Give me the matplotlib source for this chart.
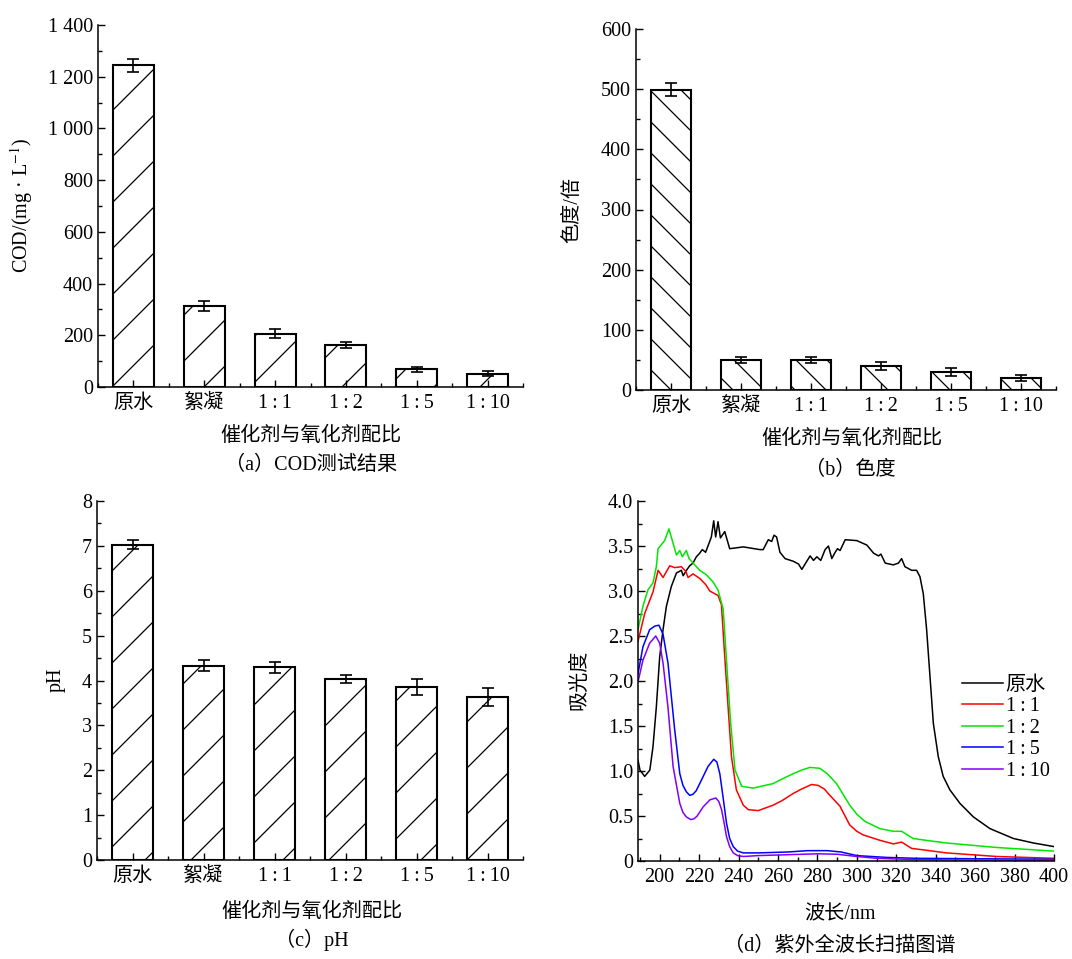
import numpy as np
import matplotlib
matplotlib.use("Agg")
import matplotlib.pyplot as plt
from matplotlib.ticker import MultipleLocator, FuncFormatter

plt.rcParams['font.family'] = ['Liberation Serif', 'Noto Sans CJK SC', 'DejaVu Sans']
plt.rcParams['mathtext.fontset'] = 'stix'

W, H = 1072, 959

# ---- bar data ----
categories = ['原水', '絮凝', '1\u2009:\u20091', '1\u2009:\u20092', '1\u2009:\u20095', '1\u2009:\u200910']
cod_vals = [1245, 314, 206, 161, 68, 51]
cod_errs = [25, 20, 18, 12, 9, 10]
color_vals = [499, 50, 50, 40, 30, 20]
color_errs = [11, 4.5, 5.5, 6.4, 6.4, 4.5]
ph_vals = [7.03, 4.33, 4.29, 4.03, 3.86, 3.64]
ph_errs = [0.11, 0.12, 0.13, 0.085, 0.18, 0.2]

# ---- UV spectra ----
wl_raw = [189, 190, 192.4, 195, 196.6, 198.3, 200, 201.7, 203.4, 205.9, 208.5, 211, 211.9, 213.6,
          215.2, 216.9, 218.6, 220.3, 221.6, 223.3, 225, 226.2, 227.4, 228.4, 229.6, 230.8, 233,
          235.5, 242.4, 250.8, 252.5, 255.1, 256.8, 258, 259.3, 261, 263.6, 267.8, 270.4, 272.1,
          274.6, 276.3, 278, 279.7, 281.7, 283.9, 285.6, 287.3, 289, 290.2, 291.5, 294.1, 300,
          305.1, 308.5, 311, 312.2, 314.4, 318.5, 321.1, 322.7, 324.4, 327.8, 330.3, 332, 333.7,
          335.4, 337.1, 338.8, 341.3, 343.8, 347.2, 352.3, 359.1, 367.5, 379.4, 389.6, 400]
abs_raw = [1.12, 1.01, 0.94, 1.01, 1.27, 1.71, 2.27, 2.57, 2.83, 3.05, 3.20, 3.23, 3.17, 3.23,
           3.28, 3.31, 3.38, 3.42, 3.46, 3.43, 3.53, 3.60, 3.78, 3.60, 3.77, 3.59, 3.66,
           3.47, 3.49, 3.46, 3.46, 3.57, 3.55, 3.62, 3.60, 3.43, 3.36, 3.33, 3.30, 3.24,
           3.33, 3.39, 3.34, 3.38, 3.34, 3.46, 3.50, 3.36, 3.43, 3.47, 3.45, 3.57, 3.56,
           3.51, 3.42, 3.39, 3.41, 3.31, 3.29, 3.31, 3.36, 3.27, 3.23, 3.23, 3.16, 2.97,
           2.57, 2.05, 1.53, 1.16, 0.94, 0.79, 0.64, 0.49, 0.36, 0.25, 0.20, 0.16]

wl_11 = [189, 192.4, 196.6, 199.2, 201.7, 205.1, 207.6, 211, 213.2, 214.4, 216.9, 220.3, 223.4,
         225.4, 229.6, 231.3, 233, 234.7, 236.4, 238.9, 242.4, 245, 250, 257.5, 262, 267.7, 272,
         277, 280.4, 283.5, 286.3, 291.4, 296.4, 300, 303.2, 311.7, 318.5, 322.7, 327.8, 335,
         345.5, 371, 400]
abs_11 = [2.44, 2.75, 2.99, 3.23, 3.15, 3.28, 3.26, 3.27, 3.22, 3.15, 3.19, 3.14, 3.07,
          3.00, 2.95, 2.85, 2.27, 1.71, 1.16, 0.79, 0.62, 0.57, 0.56, 0.62, 0.67, 0.75, 0.80,
          0.85, 0.84, 0.80, 0.73, 0.61, 0.40, 0.33, 0.29, 0.23, 0.19, 0.21, 0.14, 0.12,
          0.09, 0.05, 0.03]

wl_12 = [189, 191.5, 194, 196.6, 198.3, 199.2, 202.5, 204.7, 206.8, 208.5, 210.2, 211.5, 213.5,
         214.9, 217.8, 220.3, 223.7, 227.1, 229.6, 232.2, 234.3, 236, 238.2, 241.6, 247.4, 257.5,
         262, 267.7, 272, 276.2, 281.2, 285, 289.7, 296.4, 300, 304.1, 311.7, 318.5, 322.7, 328.6,
         335, 345.5, 371, 400]
abs_12 = [2.57, 2.83, 3.01, 3.09, 3.27, 3.47, 3.56, 3.69, 3.53, 3.40, 3.45, 3.38, 3.45,
          3.36, 3.29, 3.23, 3.18, 3.10, 3.01, 2.80, 2.09, 1.53, 1.01, 0.83, 0.81, 0.86,
          0.91, 0.97, 1.01, 1.04, 1.03, 0.97, 0.86, 0.62, 0.52, 0.44, 0.36, 0.33, 0.33, 0.25,
          0.23, 0.20, 0.15, 0.11]

wl_15 = [189, 191.5, 194.9, 197.5, 199.6, 201.7, 204.2, 205.9, 207.6, 210.2, 211.8, 213.5, 215.2,
         216.8, 218.5, 221.2, 224.5, 227.4, 229, 230.5, 232.2, 233.9, 235.5, 237.3, 239.5, 242.4,
         250, 265, 275, 285, 292, 300, 315, 330, 360, 400]
abs_15 = [2.08, 2.38, 2.57, 2.61, 2.62, 2.52, 2.20, 1.83, 1.46, 0.97, 0.84, 0.77, 0.73,
          0.74, 0.78, 0.90, 1.05, 1.13, 1.10, 0.97, 0.70, 0.42, 0.25, 0.16, 0.11, 0.09,
          0.09, 0.10, 0.115, 0.115, 0.10, 0.06, 0.04, 0.03, 0.025, 0.02]

wl_110 = [189, 191.5, 194.9, 198, 200, 201.7, 204.2, 206.8, 210.2, 211.8, 213.5, 215.8, 217.5,
          219, 222, 225.5, 228.5, 230, 231.4, 232.7, 233.9, 235.5, 237.3, 239.5, 242.4, 250, 265,
          280, 290, 300, 310, 330, 360, 400]
abs_110 = [1.99, 2.23, 2.42, 2.50, 2.42, 2.20, 1.71, 1.05, 0.64, 0.54, 0.49, 0.46, 0.47,
           0.50, 0.60, 0.68, 0.70, 0.66, 0.57, 0.42, 0.27, 0.16, 0.09, 0.06, 0.05, 0.06, 0.07,
           0.08, 0.075, 0.05, 0.03, 0.015, 0.01, 0.01]

spectra = [(wl_raw, abs_raw, '原水', 'black'),
           (wl_11, abs_11, '1\u2009:\u20091', '#ff0000'),
           (wl_12, abs_12, '1\u2009:\u20092', '#00e600'),
           (wl_15, abs_15, '1\u2009:\u20095', '#0000ff'),
           (wl_110, abs_110, '1\u2009:\u200910', '#8000ff')]

TICK_FS = 14.5
LABEL_FS = 14.5


def rect(l, t, r, b):
    return [l / W, 1 - b / H, (r - l) / W, (b - t) / H]


def ftext(x, y, s, **kw):
    fig.text(x / W, 1 - y / H, s, ha='center', va='center', fontsize=LABEL_FS, **kw)


def style(ax):
    for side in ('top', 'right'):
        ax.spines[side].set_visible(False)
    for side in ('left', 'bottom'):
        ax.spines[side].set_linewidth(1.1)
    ax.tick_params(which='both', direction='in', width=1.0, labelsize=TICK_FS)
    ax.tick_params(which='major', length=5)
    ax.tick_params(which='minor', length=3)


def add_hatch(ax, bars, spacing, slope):
    # draw sparse diagonal hatch lines clipped to each bar
    inv = ax.transData.inverted()
    for bar in bars:
        (x0, y0), (x1, y1) = ax.transData.transform(
            [(bar.get_x(), bar.get_y()), (bar.get_x() + bar.get_width(), bar.get_y() + bar.get_height())])
        if slope > 0:
            cs = np.arange(np.floor((x0 - y1) / spacing), np.ceil((x1 - y0) / spacing) + 1) * spacing
            segs = [((x0, x0 - c), (x1, x1 - c)) for c in cs]
        else:
            cs = np.arange(np.floor((x0 + y0) / spacing), np.ceil((x1 + y1) / spacing) + 1) * spacing
            segs = [((x0, c - x0), (x1, c - x1)) for c in cs]
        for p, q in segs:
            d = inv.transform([p, q])
            ln, = ax.plot(d[:, 0], d[:, 1], color='black', lw=0.9, zorder=2)
            ln.set_clip_path(bar)


def bar_panel(ax, vals, errs, ymax, major, minor, spacing, slope):
    x = np.arange(len(categories))
    bars = ax.bar(x, vals, width=0.58, facecolor='white', edgecolor='black', linewidth=1.5, zorder=1)
    ax.set_xlim(-0.5, 5.5)
    ax.set_ylim(0, ymax)
    ax.set_xticks(x)
    ax.set_xticklabels(categories)
    ax.set_xticks(np.arange(-0.5, 6, 1), minor=True)
    ax.yaxis.set_major_locator(MultipleLocator(major))
    ax.yaxis.set_minor_locator(MultipleLocator(minor))
    style(ax)
    ax.tick_params(axis='x', which='major', pad=5)
    add_hatch(ax, bars, spacing, slope)
    for b in bars:
        b.set_zorder(3)
        b.set_facecolor('none')
    ax.errorbar(x, vals, yerr=errs, fmt='none', ecolor='black', elinewidth=1.2,
                capsize=4, capthick=1.2, zorder=4)


fig = plt.figure(figsize=(W / 100, H / 100), dpi=100)

# (a) COD
ax_a = fig.add_axes(rect(98, 25, 523, 387))
bar_panel(ax_a, cod_vals, cod_errs, 1400, 200, 100, 46, 1)
ax_a.yaxis.set_major_formatter(FuncFormatter(lambda v, p: f'{int(v):,}'.replace(',', ' ')))
ftext(22, 205, 'COD/(mg · L$^{-1}$)', rotation=90)
ftext(311, 436, '催化剂与氧化剂配比')
ftext(311, 465, '（a）COD测试结果')

# (b) colour
ax_b = fig.add_axes(rect(636, 29, 1056, 390))
bar_panel(ax_b, color_vals, color_errs, 600, 100, 50, 31, -1)
ftext(573, 210, '色度/倍', rotation=90)
ftext(852, 439, '催化剂与氧化剂配比')
ftext(850, 470, '（b）色度')

# (c) pH
ax_c = fig.add_axes(rect(97, 501, 523, 860))
bar_panel(ax_c, ph_vals, ph_errs, 8, 1, 0.5, 46, 1)
ftext(56, 680, 'pH', rotation=90)
ftext(312, 912, '催化剂与氧化剂配比')
ftext(312, 940, '（c）pH')

# (d) UV scan
ax_d = fig.add_axes(rect(638, 501, 1054, 861))
for wl, ab, lab, col in spectra:
    ax_d.plot(wl, ab, color=col, lw=1.1, label=lab)
ax_d.set_xlim(189, 400)
ax_d.set_ylim(0, 4)
ax_d.xaxis.set_major_locator(MultipleLocator(20))
ax_d.xaxis.set_minor_locator(MultipleLocator(10))
ax_d.yaxis.set_major_locator(MultipleLocator(0.5))
ax_d.yaxis.set_minor_locator(MultipleLocator(0.25))
ax_d.yaxis.set_major_formatter(FuncFormatter(lambda v, p: '0' if v == 0 else f'{v:.1f}'))
style(ax_d)
ax_d.tick_params(axis='x', which='major', pad=5)
ax_d.legend(loc='center left', bbox_to_anchor=(0.78, 0.369), frameon=False, fontsize=TICK_FS,
            handlelength=2.0, handletextpad=0.15, labelspacing=0.12, borderpad=0, borderaxespad=0)
ftext(580, 680, '吸光度', rotation=90)
ftext(840, 915, '波长/nm')
ftext(840, 946, '（d）紫外全波长扫描图谱')

fig.savefig('out.png', dpi=100)
